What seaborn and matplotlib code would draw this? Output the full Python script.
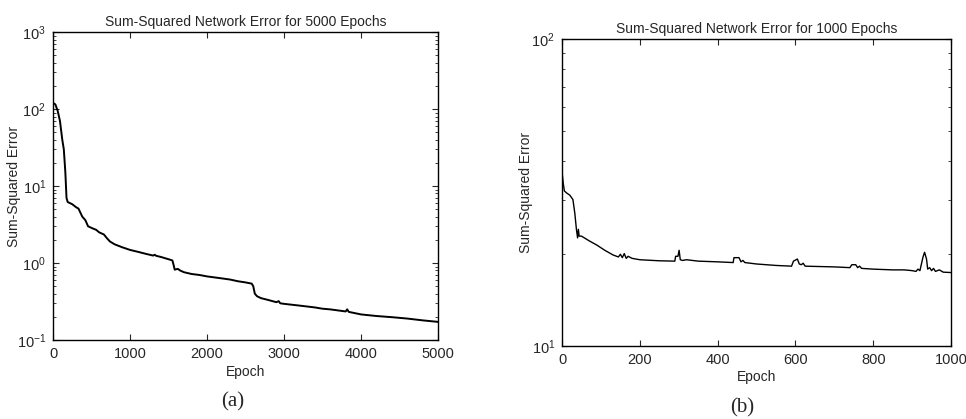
import pandas as pd
import matplotlib.pyplot as plt
import matplotlib.ticker as mticker
import seaborn as sns

# panel (a): 5000 epochs
epochs_a = [0, 30, 60, 90, 120, 140, 160, 175, 190, 250, 300, 330, 380, 420, 455,
            520, 560, 600, 660, 700, 740, 800, 900, 1000, 1100, 1200, 1300, 1320,
            1340, 1400, 1500, 1550, 1565, 1580, 1620, 1650, 1700, 1800, 1900, 2000,
            2100, 2200, 2300, 2400, 2500, 2580, 2600, 2620, 2650, 2700, 2800, 2900,
            2930, 2950, 3000, 3200, 3400, 3500, 3600, 3800, 3820, 3840, 4000, 4200,
            4400, 4600, 4800, 5000]
error_a = [120, 115, 95, 70, 40, 30, 15, 7, 6.2, 5.8, 5.3, 5.1, 4.0, 3.6, 3.0,
           2.8, 2.7, 2.5, 2.35, 2.1, 1.9, 1.75, 1.6, 1.48, 1.4, 1.32, 1.25, 1.28,
           1.24, 1.2, 1.12, 1.08, 0.95, 0.82, 0.84, 0.8, 0.76, 0.72, 0.70, 0.67,
           0.65, 0.63, 0.61, 0.58, 0.56, 0.54, 0.5, 0.4, 0.37, 0.35, 0.33, 0.31,
           0.32, 0.30, 0.295, 0.28, 0.265, 0.255, 0.25, 0.235, 0.25, 0.232, 0.215,
           0.205, 0.198, 0.19, 0.18, 0.172]

# panel (b): 1000 epochs
epochs_b = [0, 3, 6, 12, 20, 28, 33, 37, 40, 42, 44, 50, 70, 90, 110, 131, 145,
            150, 155, 160, 165, 170, 180, 200, 250, 290, 292, 298, 301, 304, 310,
            320, 350, 400, 440, 442, 455, 460, 465, 470, 500, 550, 590, 595, 605,
            610, 615, 620, 625, 700, 740, 745, 755, 760, 765, 770, 800, 850, 880,
            900, 910, 915, 920, 928, 932, 937, 940, 945, 950, 955, 960, 970, 980,
            1000]
error_b = [37, 34, 32, 31.5, 31, 30, 27, 24, 22.5, 24, 22.8, 22.8, 22, 21.3, 20.5,
           19.8, 19.5, 19.9, 19.4, 20, 19.3, 19.6, 19.3, 19.1, 18.95, 18.9, 19.6,
           19.6, 20.5, 19.1, 19.0, 19.1, 18.9, 18.8, 18.7, 19.4, 19.4, 18.8, 19.0,
           18.7, 18.5, 18.3, 18.2, 18.9, 19.2, 18.5, 18.4, 18.6, 18.2, 18.1, 18.0,
           18.4, 18.4, 18.0, 18.2, 17.9, 17.8, 17.7, 17.7, 17.6, 17.5, 17.8, 17.6,
           19.5, 20.2, 19.2, 17.8, 18.0, 17.6, 17.9, 17.5, 17.7, 17.4, 17.35]

sns.set_style("ticks")
plt.rcParams['font.family'] = ['Liberation Sans', 'DejaVu Sans']
plt.rcParams['mathtext.default'] = 'regular'
plt.rcParams['xtick.direction'] = 'in'
plt.rcParams['ytick.direction'] = 'in'

fig = plt.figure(figsize=(9.66, 4.19), dpi=100)
ax1 = fig.add_axes([0.0549, 0.1885, 0.3986, 0.735])
ax2 = fig.add_axes([0.5818, 0.1742, 0.4027, 0.7327])

df_a = pd.DataFrame({'Epoch': epochs_a, 'Error': error_a})
df_b = pd.DataFrame({'Epoch': epochs_b, 'Error': error_b})

sns.lineplot(data=df_a, x='Epoch', y='Error', ax=ax1, color='black', lw=1.4)
sns.lineplot(data=df_b, x='Epoch', y='Error', ax=ax2, color='black', lw=1.0)

setup = [
    (ax1, 5000, (0.1, 1000), [0, 1000, 2000, 3000, 4000, 5000],
     'Sum-Squared Network Error for 5000 Epochs', -0.083, -0.081),
    (ax2, 1000, (10, 100), [0, 200, 400, 600, 800, 1000],
     'Sum-Squared Network Error for 1000 Epochs', -0.075, -0.078),
]
for ax, xmax, ylim, xt, title, ylx, xly in setup:
    ax.set_yscale('log')
    ax.set_xlim(0, xmax)
    ax.set_ylim(*ylim)
    ax.set_xticks(xt)
    ax.yaxis.set_minor_formatter(mticker.NullFormatter())
    ax.set_title(title, fontsize=10, pad=4)
    ax.set_xlabel('Epoch', fontsize=10)
    ax.set_ylabel('Sum-Squared Error', fontsize=10)
    ax.yaxis.set_label_coords(ylx, 0.5)
    ax.xaxis.set_label_coords(0.5, xly)
    ax.tick_params(which='both', top=True, right=True, labelsize=10.5)
    ax.tick_params(which='major', length=4, width=0.8, pad=5)
    ax.tick_params(which='minor', length=2, width=0.6)
    for s in ax.spines.values():
        s.set_linewidth(1.0)
        s.set_color('black')

fig.text(0.241, 0.04, '(a)', fontsize=15, family='Liberation Serif', ha='center', va='center')
fig.text(0.768, 0.026, '(b)', fontsize=15, family='Liberation Serif', ha='center', va='center')

fig.savefig('out.png', dpi=100)
